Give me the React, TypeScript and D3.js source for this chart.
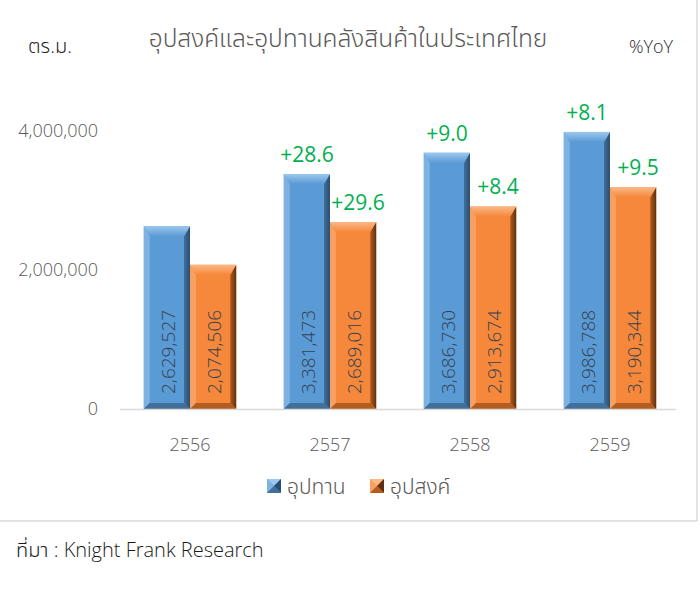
import * as d3 from 'd3'

// values
const years = ['2556', '2557', '2558', '2559']
const supply = [2629527, 3381473, 3686730, 3986788]   // อุปทาน
const demand = [2074506, 2689016, 2913674, 3190344]   // อุปสงค์
const supplyYoY = [null, 28.6, 9.0, 8.1]
const demandYoY = [null, 29.6, 8.4, 9.5]
const yTicks = [0, 2000000, 4000000]

const W = 700
const H = 601
const FONT = "'Open Sans', 'Noto Sans Thai', sans-serif"
const GREY = '#595959'
const GREEN = '#00B050'

const palettes = {
    blue: { id: 'b', face: '#5B9BD5', top: '#9CC8EE', left: '#7DB2E2', right: '#2A4E72', bottom: '#416F9A' },
    orange: { id: 'o', face: '#F5883A', top: '#FBB888', left: '#F8A061', right: '#5E300E', bottom: '#B35C1F' },
}

function BevelBar({ x, y, w, h, pal }) {
    const b = Math.min(10, h / 2)
    const s = 6
    return (
        <g>
            <rect x={x} y={y} width={w} height={h} fill={pal.face} />
            <polygon points={`${x},${y} ${x + s},${y + b} ${x + s},${y + h - s} ${x},${y + h}`} fill={pal.left} />
            <polygon points={`${x + w},${y} ${x + w},${y + h} ${x + w - s},${y + h - s} ${x + w - s},${y + b}`} fill={`url(#right-${pal.id})`} />
            <polygon points={`${x},${y + h} ${x + s},${y + h - s} ${x + w - s},${y + h - s} ${x + w},${y + h}`} fill={pal.bottom} />
            <polygon points={`${x},${y} ${x + w},${y} ${x + w - s},${y + b} ${x + s},${y + b}`} fill={`url(#top-${pal.id})`} />
        </g>
    )
}

function LegendSwatch({ x, y, pal }) {
    const s = 14
    const c = s / 2
    return (
        <g>
            <rect x={x} y={y} width={s} height={s} fill={pal.face} />
            <polygon points={`${x},${y} ${x + s},${y} ${x + c},${y + c}`} fill={pal.top} />
            <polygon points={`${x},${y} ${x + c},${y + c} ${x},${y + s}`} fill={pal.left} />
            <polygon points={`${x + s},${y} ${x + s},${y + s} ${x + c},${y + c}`} fill={pal.right} />
            <polygon points={`${x},${y + s} ${x + s},${y + s} ${x + c},${y + c}`} fill={pal.bottom} />
        </g>
    )
}

export default function App() {
    const scaleX = d3.scaleBand().domain(years).range([120, 680]).paddingInner(0.34).paddingOuter(0.17)
    const scaleY = d3.scaleLinear().domain([0, 4000000]).range([409, 131])
    const fmt = d3.format(',')
    const bw = scaleX.bandwidth() / 2
    const base = scaleY(0)

    const series = [
        { vals: supply, yoy: supplyYoY, pal: palettes.blue, off: 0, dx: 0 },
        { vals: demand, yoy: demandYoY, pal: palettes.orange, off: bw, dx: 5 },
    ]

    return (
        <div style={{ position: 'absolute', left: 0, top: 0 }}>
            <svg width={W} height={H} style={{ display: 'block', background: '#fff' }} fontFamily={FONT} fontWeight={300}>
                <defs>
                    {Object.values(palettes).map(p => (
                        <g key={p.id}>
                            <linearGradient id={`top-${p.id}`} x1='0' y1='0' x2='0' y2='1'>
                                <stop offset='0' stopColor={p.top} />
                                <stop offset='1' stopColor={p.face} />
                            </linearGradient>
                            <linearGradient id={`right-${p.id}`} x1='0' y1='0' x2='1' y2='0'>
                                <stop offset='0' stopColor={p.bottom} />
                                <stop offset='1' stopColor={p.right} />
                            </linearGradient>
                        </g>
                    ))}
                </defs>

                {/* chart frame */}
                <line x1={697} x2={697} y1={0} y2={521} stroke='#D9D9D9' strokeWidth={1.5} />
                <line x1={0} x2={697} y1={521} y2={521} stroke='#D9D9D9' strokeWidth={1.5} />

                <text x={348} y={47} textAnchor='middle' fontSize={24.5} fill={GREY}>อุปสงค์และอุปทานคลังสินค้าในประเทศไทย</text>
                <text x={50} y={53} textAnchor='middle' fontSize={20} fill='#262626'>ตร.ม.</text>
                <text x={651} y={53} textAnchor='middle' fontSize={18} fill='#262626'>%YoY</text>

                {/* y axis labels */}
                {yTicks.map(t => (
                    <text key={t} x={98} y={scaleY(t)} dy='0.35em' textAnchor='end' fontSize={18} fill={GREY}>{fmt(t)}</text>
                ))}

                {/* bars */}
                {series.map((s, si) => years.map((yr, i) => {
                    const x = scaleX(yr) + s.off
                    const y = scaleY(s.vals[i])
                    const cx = x + bw / 2
                    return (
                        <g key={`${si}-${yr}`}>
                            <BevelBar x={x} y={y} w={bw} h={base - y} pal={s.pal} />
                            <text transform={`translate(${cx + 1},${base - 15}) rotate(-90)`} dy='0.35em' fontSize={19} fill='#333F50'>{fmt(s.vals[i])}</text>
                            {s.yoy[i] != null && (
                                <text x={cx + s.dx} y={y - 12} textAnchor='middle' fontSize={21} fontWeight={400} fill={GREEN}>{'+' + s.yoy[i].toFixed(1)}</text>
                            )}
                        </g>
                    )
                }))}

                {/* x axis */}
                <line x1={120} x2={676} y1={base + 0.5} y2={base + 0.5} stroke='#D9D9D9' strokeWidth={1.5} />
                {years.map(yr => (
                    <text key={yr} x={scaleX(yr) + scaleX.bandwidth() / 2} y={451} textAnchor='middle' fontSize={18} fill={GREY}>{yr}</text>
                ))}

                {/* legend */}
                <LegendSwatch x={267} y={479} pal={palettes.blue} />
                <text x={287} y={494} fontSize={21} fill={GREY}>อุปทาน</text>
                <LegendSwatch x={370} y={479} pal={palettes.orange} />
                <text x={390} y={494} fontSize={21} fill={GREY}>อุปสงค์</text>

                <text x={16} y={557} fontSize={20} fill='#1a1a1a'>ที่มา : Knight Frank Research</text>
            </svg>
        </div>
    )
}
